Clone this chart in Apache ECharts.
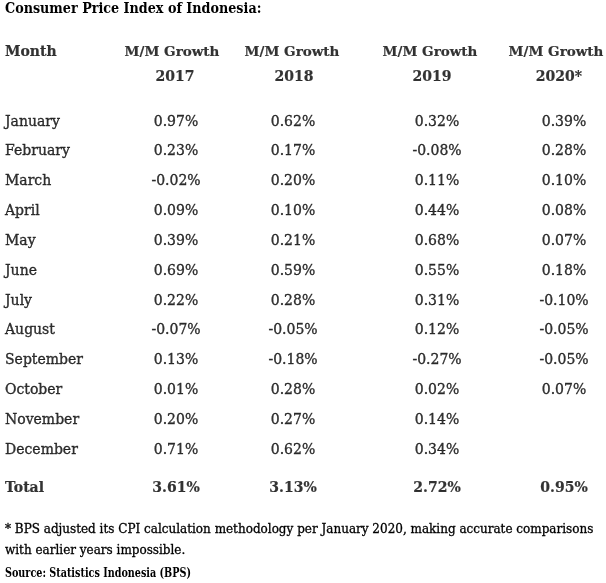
<!DOCTYPE html>
<html><head><meta charset="utf-8">
<script src="https://cdn.jsdelivr.net/npm/echarts@6/dist/echarts.min.js"></script>
<style>html,body{margin:0;padding:0;background:#fff}#c{width:606px;height:583px}</style>
</head><body><div id="c"></div>
<script>
// ---- data ----
const months = ['January','February','March','April','May','June','July','August','September','October','November','December'];
const years = ['2017','2018','2019','2020*'];
const headerLine1 = ['M/M Growth','M/M Growth','M/M Growth','M/M Growth'];
const v2017 = [0.97,0.23,-0.02,0.09,0.39,0.69,0.22,-0.07,0.13,0.01,0.20,0.71];
const v2018 = [0.62,0.17,0.20,0.10,0.21,0.59,0.28,-0.05,-0.18,0.28,0.27,0.62];
const v2019 = [0.32,-0.08,0.11,0.44,0.68,0.55,0.31,0.12,-0.27,0.02,0.14,0.34];
const v2020 = [0.39,0.28,0.10,0.08,0.07,0.18,-0.10,-0.05,-0.05,0.07,null,null];
const totals = [3.61,3.13,2.72,0.95];
const titleText = 'Consumer Price Index of Indonesia:';
const footnote1 = '* BPS adjusted its CPI calculation methodology per January 2020, making accurate comparisons';
const footnote2 = 'with earlier years impossible.';
const sourceText = 'Source: Statistics Indonesia (BPS)';

// ---- layout (styling only) ----
const FONT = 'DejaVu Serif';
const FS = 14;
const colValX = [176,293,437,564];
const colHeadX = [172,292,430,556];
const colYearX = [175,294,432,559];
const monthX = 5;
const rowH = 29.82, firstY = 122;
const header1Row = (52-firstY)/rowH, header2Row = (77-firstY)/rowH;
const totalRow = (488-firstY)/rowH;
const yMin = -4, yMax = 14;

const valueSeries = [v2017,v2018,v2019,v2020];
const series = [];
const baseLabel = {show:true, color:'#000', fontFamily:FONT, fontSize:FS, textBorderColor:'#000', textBorderWidth:0.35};
const boldLabel = Object.assign({}, baseLabel, {fontWeight:'bold', textBorderWidth:0.2});
// month names
series.push({type:'scatter', symbolSize:0, silent:true,
  data: months.map((m,i)=>({value:[monthX,i], name:m})),
  label:Object.assign({}, baseLabel, {position:'right', distance:0, formatter:p=>p.name})});
// values
valueSeries.forEach((arr,c)=>{
  series.push({type:'scatter', symbolSize:0, silent:true,
    data: arr.map((v,i)=> v==null? null : {value:[colValX[c],i,v]}).filter(d=>d),
    label:Object.assign({}, baseLabel, {position:'inside', formatter:p=>p.value[2].toFixed(2)+'%'})});
});
// total row
series.push({type:'scatter', symbolSize:0, silent:true,
  data:[{value:[monthX,totalRow], name:'Total'}],
  label:Object.assign({}, boldLabel, {position:'right', distance:0, formatter:p=>p.name})});
series.push({type:'scatter', symbolSize:0, silent:true,
  data: totals.map((v,c)=>({value:[colValX[c],totalRow,v]})),
  label:Object.assign({}, boldLabel, {position:'inside', formatter:p=>p.value[2].toFixed(2)+'%'})});
// headers
series.push({type:'scatter', symbolSize:0, silent:true,
  data:[{value:[monthX,header1Row], name:'Month'}],
  label:Object.assign({}, boldLabel, {position:'right', distance:0, formatter:p=>p.name})});
series.push({type:'scatter', symbolSize:0, silent:true,
  data: headerLine1.map((h,c)=>({value:[colHeadX[c],header1Row], name:h})),
  label:Object.assign({}, boldLabel, {fontSize:13.5, position:'inside', formatter:p=>p.name})});
series.push({type:'scatter', symbolSize:0, silent:true,
  data: years.map((h,c)=>({value:[colYearX[c],header2Row], name:h})),
  label:Object.assign({}, boldLabel, {position:'inside', formatter:p=>p.name})});

const chart = echarts.init(document.getElementById('c'), null, {renderer:'canvas'});
chart.setOption({
  animation:false,
  backgroundColor:'#fff',
  grid:{left:0, right:0, top:firstY + yMin*rowH, height:(yMax-yMin)*rowH},
  xAxis:{type:'value', min:0, max:606, show:false},
  yAxis:{type:'value', min:yMin, max:yMax, inverse:true, show:false},
  graphic:[
    {type:'text', x:5, y:9, scaleX:0.85, style:{text:titleText, font:'bold 15px "'+FONT+'"', fill:'#000', verticalAlign:'middle', textVerticalAlign:'middle'}},
    {type:'text', x:5, y:529.5, style:{text:footnote1, font:'12px "'+FONT+'"', fill:'#000', verticalAlign:'middle', textVerticalAlign:'middle', stroke:'#000', lineWidth:0.3}},
    {type:'text', x:5, y:550.5, style:{text:footnote2, font:'12px "'+FONT+'"', fill:'#000', verticalAlign:'middle', textVerticalAlign:'middle', stroke:'#000', lineWidth:0.3}},
    {type:'text', x:5, y:573.5, scaleX:0.74, style:{text:sourceText, font:'bold 13px "'+FONT+'"', fill:'#000', verticalAlign:'middle', textVerticalAlign:'middle'}}
  ],
  series: series
});
</script></body></html>
